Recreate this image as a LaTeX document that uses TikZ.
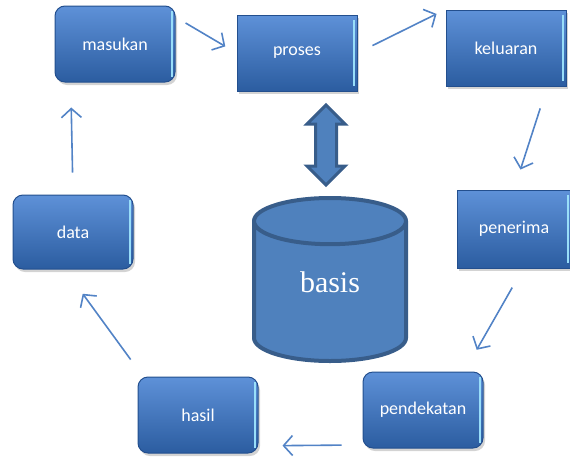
\documentclass[tikz,border=0pt]{standalone}
\usepackage{fontspec}
\setsansfont{Carlito}
\setmainfont{Liberation Serif}
\usetikzlibrary{arrows.meta,shapes.geometric,shapes.arrows,shadows,calc}

\definecolor{boxblue}{HTML}{3067B2}
\definecolor{boxtop}{HTML}{5E91D8}
\definecolor{boxedge}{HTML}{234F8E}
\definecolor{flowblue}{HTML}{5283C6}
\definecolor{dbfill}{HTML}{4F81BD}
\definecolor{dbedge}{HTML}{385D8A}

\tikzset{
  box/.style={draw=boxedge, line width=1pt, top color=boxtop, middle color=boxblue,
    bottom color=boxblue!90!black, minimum width=120, minimum height=76,
    text=white, font=\sffamily\fontsize{18}{20}\selectfont,
    drop shadow={shadow xshift=2pt, shadow yshift=-3pt, opacity=0.35},
    path picture={\draw[white!60!cyan, line width=1.2pt]
      ([xshift=-3pt,yshift=-5pt]path picture bounding box.north east) --
      ([xshift=-3pt,yshift=5pt]path picture bounding box.south east);}},
  rbox/.style={box, rounded corners=10pt},
  flow/.style={draw=flowblue, line width=1.6pt, -{Straight Barb[length=9pt,width=20pt]}},
}

\begin{document}
\begin{tikzpicture}[x=1pt,y=-1pt]
  \useasboundingbox (0,0) rectangle (570,461);
  \node[rbox] (masukan) at (115,44) {masukan};
  \node[box] (proses) at (297,53) {proses};
  \node[box] (keluaran) at (506,48) {keluaran};
  \node[box, minimum width=114, minimum height=78] (penerima) at (514,229) {penerima};
  \node[rbox, minimum height=74] (data) at (73,232) {data};
  \node[rbox] (hasil) at (198,415) {hasil};
  \node[rbox] (pendekatan) at (423,410) {pendekatan};
  % database and its link to proses
  \node[cylinder, shape border rotate=90, aspect=0.77, minimum width=152, minimum height=163,
    draw=dbedge, line width=4pt, fill=dbfill, text=white, inner sep=0, anchor=north,
    font=\rmfamily\fontsize{30}{32}\selectfont] (basis) at (330,196) {\smash{basis}};
  \node[double arrow, rotate=90, draw=dbedge, line width=3pt, fill=dbfill, minimum height=80,
    inner xsep=0, inner ysep=9pt, double arrow head extend=8.5pt] (link) at ($(basis.north)+(-4,-51)$) {};
  % cycle
  \draw[flow, shorten <=11.7pt, shorten >=13pt] (masukan.24) -- (proses.west);
  \draw[flow, shorten <=16.7pt, shorten >=10pt] (proses.east) -- (keluaran.north west);
  \draw[flow, shorten <=23pt, shorten >=21pt] (keluaran.-43) -- (penerima.north);
  \draw[flow, shorten <=22pt, shorten >=25pt] (penerima.-77) -- (pendekatan.43);
  \draw[flow, shorten <=21pt, shorten >=24pt] (pendekatan.210) -- (hasil.-27);
  \draw[flow, shorten <=21pt, shorten >=30pt] (hasil.145) -- (data.258);
  \draw[flow, shorten <=22pt, shorten >=25pt] (data.north) -- (masukan.221);
\end{tikzpicture}
\end{document}
